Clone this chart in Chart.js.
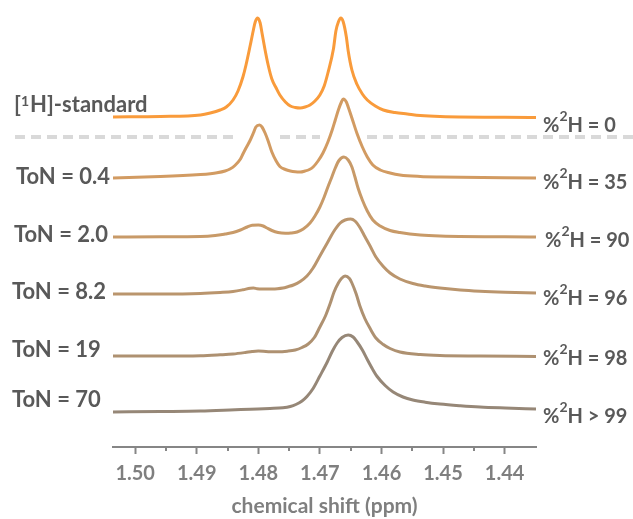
<!DOCTYPE html>
<html><head><meta charset="utf-8">
<script src="https://cdn.jsdelivr.net/npm/chart.js@4.4.1/dist/chart.umd.min.js"></script>
<style>html,body{margin:0;padding:0;background:#fff;overflow:hidden}</style>
</head><body>
<canvas id="c" width="633" height="519"></canvas>
<script>
// ---- data ----
const tonLabels = ['0.4', '2.0', '8.2', '19', '70'];
const deuteration = ['= 0', '= 35', '= 90', '= 96', '= 98', '> 99'];
const seriesNames = ['[1H]-standard', 'ToN = 0.4', 'ToN = 2.0', 'ToN = 8.2', 'ToN = 19', 'ToN = 70'];
const stackOffsets = [330, 269, 210, 153, 91, 35];
const separatorLevel = 310;
const xTickValues = [1.50, 1.49, 1.48, 1.47, 1.46, 1.45, 1.44];

const ppmStd = [1.5036,1.4959,1.4894,1.4878,1.4862,1.4852,1.4841,1.4833,1.4825,1.4820,1.4813,1.4808,1.4805,1.4801,1.4797,1.4794,1.4789,1.4784,1.4778,1.4771,1.4765,1.4756,1.4748,1.4740,1.4732,1.4724,1.4716,1.4708,1.4700,1.4693,1.4687,1.4678,1.4674,1.4670,1.4666,1.4662,1.4657,1.4654,1.4648,1.4640,1.4631,1.4623,1.4610,1.4597,1.4578,1.4558,1.4537,1.4505,1.4349];
const intStd = [0,0.5,2,4,7,10,17,26,40,52,72,87,95,99,94,84,67,52,38,29,22,15,11,9.5,9,10,12,16,22,31,44,68,86,95,99,95,80,66,47,33,23,17,11,7,4.5,3,1.5,0.5,-0.5];

const ppmT04 = [1.5036,1.4959,1.4894,1.4878,1.4867,1.4854,1.4846,1.4838,1.4829,1.4825,1.4820,1.4813,1.4808,1.4804,1.4798,1.4794,1.4789,1.4784,1.4778,1.4771,1.4765,1.4756,1.4748,1.4740,1.4732,1.4724,1.4717,1.4711,1.4703,1.4695,1.4687,1.4680,1.4675,1.4670,1.4665,1.4662,1.4657,1.4654,1.4648,1.4640,1.4631,1.4623,1.4614,1.4602,1.4586,1.4570,1.4537,1.4505,1.4349];
const intT04 = [0,1.5,3.5,4.3,5.2,7,9,12.5,19,24,30,38,45,51,53,51,45,37,26,17,11.5,8.5,7,6.2,6,7,8.5,11,17,25,36,48,58,68,76,79,76,71,60,45,31,21,13,8,5,3,1.5,1,0];

const ppmT20 = [1.5036,1.4959,1.4894,1.4870,1.4854,1.4841,1.4829,1.4818,1.4810,1.4800,1.4792,1.4786,1.4778,1.4768,1.4756,1.4747,1.4737,1.4727,1.4716,1.4708,1.4700,1.4693,1.4687,1.4680,1.4675,1.4669,1.4661,1.4654,1.4648,1.4643,1.4638,1.4631,1.4623,1.4614,1.4602,1.4586,1.4570,1.4537,1.4505,1.4349];
const intT20 = [0,0.2,0.5,1.5,3,4.5,7,10,11.8,12,11,9,6.5,4.5,3.8,4,5,8,14,21,30,40,50,61,69,76.5,80,77,70,60,49,37,26,17,11,6.5,4.5,2,1,0];

const ppmT82 = [1.5036,1.4959,1.4894,1.4862,1.4841,1.4825,1.4813,1.4808,1.4802,1.4794,1.4781,1.4769,1.4760,1.4752,1.4743,1.4732,1.4721,1.4711,1.4700,1.4688,1.4678,1.4667,1.4659,1.4650,1.4643,1.4635,1.4627,1.4618,1.4609,1.4597,1.4586,1.4570,1.4549,1.4529,1.4505,1.4472,1.4440,1.4399,1.4349];
const intT82 = [0,0,0.5,1.5,2.5,4.2,5.8,6,5.2,4.9,5,5.3,6,7.3,9,12.5,18,26,38,51,62,71,74,75,73,66.5,57.5,47.5,37,27.5,21,15,10.5,8,6,4,2.8,1.8,1];

const ppmT19 = [1.5036,1.4959,1.4894,1.4862,1.4841,1.4821,1.4810,1.4800,1.4792,1.4781,1.4768,1.4753,1.4740,1.4729,1.4719,1.4709,1.4700,1.4691,1.4683,1.4677,1.4670,1.4665,1.4659,1.4652,1.4648,1.4641,1.4635,1.4627,1.4618,1.4609,1.4597,1.4586,1.4570,1.4537,1.4505,1.4440,1.4349];
const intT19 = [0,0,0.3,1.2,2,3.5,4.5,5,4.8,4.2,4.2,4.8,6,8.5,12,18.5,29,40,53,64,73,77.5,80,77.5,73,62,50,37.5,27,18,11.5,7.5,4,1.5,0.5,0,-0.5];

const ppmT70 = [1.5036,1.4959,1.4894,1.4846,1.4813,1.4781,1.4760,1.4748,1.4739,1.4729,1.4721,1.4711,1.4700,1.4688,1.4680,1.4672,1.4664,1.4654,1.4646,1.4640,1.4631,1.4623,1.4615,1.4607,1.4594,1.4581,1.4565,1.4549,1.4529,1.4505,1.4472,1.4440,1.4399,1.4349];
const intT70 = [0,0.5,1,2,2.8,3.5,4.2,5.5,7.5,11,15.5,23.5,36,50,60.5,69,74.5,77,75,70.5,62,52.5,43.5,35.5,26.5,20,15,12,9.8,8,6.3,5,4,3];

const spectraPpm = [ppmStd, ppmT04, ppmT20, ppmT82, ppmT19, ppmT70];
const spectraInt = [intStd, intT04, intT20, intT82, intT19, intT70];
const lineColors = ['#F99B3B', '#D29B62', '#C89A68', '#BA956D', '#AE9171', '#968777'];

// ---- build datasets ----
const datasets = spectraPpm.map((xs, k) => ({
  label: seriesNames[k],
  data: xs.map((x, i) => ({ x: x, y: spectraInt[k][i] + stackOffsets[k] })),
  borderColor: lineColors[k],
  borderWidth: 3,
  pointRadius: 0,
  fill: false,
  cubicInterpolationMode: 'monotone',
  clip: false
}));

const LEFT_FONT = 'bold 22px Lato';
const RIGHT_FONT = 'bold 20px Lato';
const SUP_FONT = 'bold 14px Lato';
const TEXT_COLOR = '#595959';
const AXIS_COLOR = '#868686';

function drawRuns(ctx, x, y, font, runs) {
  runs.forEach(r => {
    ctx.font = r.sup ? SUP_FONT : font;
    ctx.fillText(r.t, x, y - (r.rise || 0));
    x += ctx.measureText(r.t).width + (r.gap || 0);
  });
}

const annotations = {
  id: 'annotations',
  afterDraw(chart) {
    const ctx = chart.ctx;
    const xs = chart.scales.x;
    const ys = chart.scales.y;
    const area = chart.chartArea;
    ctx.save();
    // minor ticks
    ctx.strokeStyle = AXIS_COLOR; ctx.lineWidth = 2;
    for (let i = 0; i < xTickValues.length - 1; i++) {
      const v = (xTickValues[i] + xTickValues[i + 1]) / 2;
      const px = Math.round(xs.getPixelForValue(v));
      ctx.beginPath(); ctx.moveTo(px, area.bottom); ctx.lineTo(px, area.bottom + 4); ctx.stroke();
    }
    // dashed separator
    const sy = ys.getPixelForValue(separatorLevel);
    ctx.strokeStyle = '#D9D9D9'; ctx.lineWidth = 4; ctx.setLineDash([10, 6]);
    [[15, 233], [280, 320], [367, 633]].forEach(([a, b]) => {
      ctx.beginPath(); ctx.moveTo(a, sy); ctx.lineTo(b, sy); ctx.stroke();
    });
    ctx.setLineDash([]);
    // labels
    ctx.fillStyle = TEXT_COLOR; ctx.textBaseline = 'alphabetic'; ctx.textAlign = 'left';
    drawRuns(ctx, 14, 112, LEFT_FONT, [{t: '['}, {t: '1', sup: true, rise: 6, gap: 1}, {t: 'H]-standard'}]);
    const leftX = [16, 14, 12, 12, 12];
    const leftY = [184, 242, 299, 357, 407];
    tonLabels.forEach((t, i) => drawRuns(ctx, leftX[i], leftY[i], LEFT_FONT, [{t: 'ToN = ' + t}]));
    const rightX = [543, 543, 545, 543, 543, 543];
    const rightY = [132, 189, 247, 305, 365, 423];
    deuteration.forEach((t, i) => drawRuns(ctx, rightX[i], rightY[i], RIGHT_FONT,
      [{t: '%'}, {t: '2', sup: true, rise: 11}, {t: 'H ' + t}]));
    ctx.restore();
  }
};

new Chart(document.getElementById('c'), {
  type: 'line',
  data: { datasets },
  options: {
    responsive: false,
    animation: false,
    devicePixelRatio: 1,
    layout: { padding: { left: 113, right: 97, top: 10, bottom: 0 } },
    plugins: { legend: { display: false }, tooltip: { enabled: false } },
    scales: {
      y: { display: false, min: 0, max: 437 },
      x: {
        type: 'linear', reverse: true, min: 1.4349, max: 1.5036,
        border: { color: AXIS_COLOR, width: 2 },
        grid: { drawOnChartArea: false, drawTicks: true, tickLength: 7, tickColor: AXIS_COLOR, tickWidth: 2 },
        ticks: {
          stepSize: 0.01, includeBounds: false, autoSkip: false, maxRotation: 0,
          color: '#7F7F7F', font: { family: 'Lato', size: 20, weight: 'bold' }, padding: 8,
          callback: v => v.toFixed(2)
        },
        title: { display: true, text: 'chemical shift (ppm)', color: '#7F7F7F',
          font: { family: 'Lato', size: 21, weight: 'bold' }, padding: { top: 0, bottom: 0 } },
        afterFit: s => { s.height = 72; }
      }
    }
  },
  plugins: [annotations]
});
</script>
</body></html>
